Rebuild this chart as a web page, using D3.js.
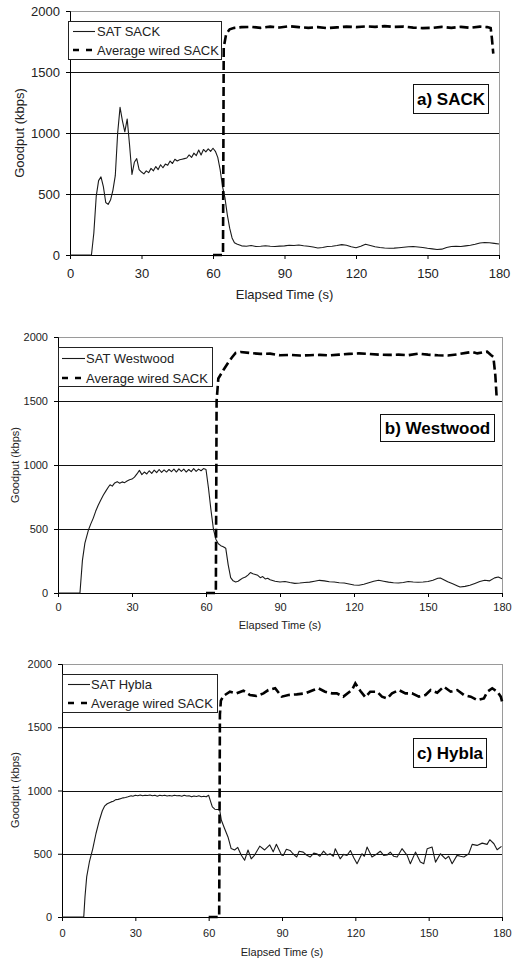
<!DOCTYPE html>
<html><head><meta charset="utf-8">
<script src="https://cdn.jsdelivr.net/npm/d3@7"></script>
<style>body{margin:0;background:#fff} text{font-family:"Liberation Sans",Arial,sans-serif}</style>
</head><body><svg id="c" width="517" height="963"></svg>
<script>
const xTickValues=[0,30,60,90,120,150,180];
const yTickValues=[0,500,1000,1500,2000];
const gridValues=[500,1000,1500];
const xTitle="Elapsed Time (s)";
const yTitle="Goodput (kbps)";
const wiredLabel="Average wired SACK";
const satLabels=["SAT SACK","SAT Westwood","SAT Hybla"];
const panelTitles=["a) SACK","b) Westwood","c) Hybla"];

const satSack=[[0,0],[9,0],[10,180],[11,480],[12,610],[13,640],[14,560],[15,430],[16,415],[17,450],[18,530],[19,650],[20,1000],[21,1210],[22,1100],[23,1010],[24,1115],[25,900],[26,660],[27,760],[28,790],[29,700],[30,680],[31,665],[32,690],[33,675],[34,710],[35,690],[36,725],[37,700],[38,740],[39,715],[40,745],[41,735],[42,770],[43,750],[44,785],[45,770],[46,780],[47,785],[48,790],[49,795],[50,820],[51,800],[52,835],[53,815],[54,860],[55,820],[56,865],[57,845],[58,870],[59,850],[60,875],[61,850],[62,800],[63,700],[64,560],[65,470],[66,330],[67,220],[68,140],[69,100],[70,90],[72,75],[74,72],[76,78],[78,70],[80,72],[82,76],[84,72],[86,70],[88,73],[90,75],[92,80],[94,78],[96,82],[98,76],[100,72],[102,65],[104,58],[106,62],[108,70],[110,72],[112,78],[114,85],[116,80],[118,68],[120,60],[122,72],[124,88],[126,78],[128,68],[130,62],[132,58],[134,55],[136,56],[138,60],[140,64],[142,68],[144,70],[146,66],[148,62],[150,55],[152,50],[154,45],[156,48],[158,62],[160,70],[162,72],[164,70],[166,75],[168,80],[170,88],[172,98],[174,102],[176,100],[178,95],[180,90]];
const wiredSack=[[60,0],[64.2,0],[64.5,1700],[65.5,1810],[67,1850],[69,1862],[72,1868],[76,1870],[80,1862],[84,1872],[88,1865],[92,1875],[96,1868],[100,1862],[104,1868],[108,1860],[112,1866],[116,1872],[120,1868],[124,1874],[128,1870],[132,1876],[136,1870],[140,1872],[144,1864],[148,1860],[152,1862],[156,1870],[160,1862],[164,1870],[168,1862],[172,1872],[175,1868],[176.5,1860],[177,1780],[177.6,1650]];

const satWestwood=[[0,0],[8.9,0],[9.9,255],[10.9,390],[12.3,490],[13.3,540],[14.3,585],[15.3,640],[16.3,685],[17.3,725],[18.4,765],[19.5,800],[20.5,830],[21.1,845],[22,835],[23,860],[24,870],[25,858],[26,868],[27,862],[28,875],[29,885],[30,890],[31,905],[32,930],[33,958],[34,925],[35,945],[36,930],[37,955],[38,935],[39,960],[40,940],[41,965],[42,942],[43,962],[44,945],[45,965],[46,948],[47,968],[48,945],[49,970],[50,950],[51,968],[52,945],[53,965],[54,948],[55,972],[56,950],[57,968],[58,955],[59,972],[60,965],[61,820],[62,650],[63,500],[64,420],[65,385],[66,370],[67,362],[68,350],[69,220],[70,120],[71,95],[72,86],[73,92],[74,105],[75,118],[76,125],[77,140],[78,160],[79,150],[80,145],[81,138],[82,120],[83,128],[84,110],[85,115],[86,104],[88,92],[90,86],[92,90],[94,82],[96,75],[98,78],[100,82],[102,85],[104,92],[106,99],[108,95],[110,88],[112,86],[114,80],[116,78],[118,70],[120,62],[122,60],[124,68],[126,80],[128,92],[130,99],[132,92],[134,85],[136,80],[138,78],[140,82],[142,90],[144,86],[146,84],[148,86],[150,90],[152,100],[154,115],[155,117],[156,108],[158,88],[160,72],[162,55],[163,47],[165,52],[167,60],[169,75],[171,90],[173,100],[175,95],[177,118],[178.5,125],[180,112]];
const wiredWestwood=[[60,0],[64,0],[64.3,1500],[65,1676],[67,1740],[69,1800],[70.5,1840],[72,1875],[74,1883],[78,1875],[82,1868],[86,1870],[90,1857],[94,1860],[98,1855],[102,1858],[106,1860],[110,1856],[114,1862],[118,1868],[122,1872],[126,1868],[130,1862],[134,1860],[138,1862],[142,1858],[146,1870],[150,1862],[154,1857],[158,1855],[162,1865],[166,1878],[168,1883],[170,1872],[172,1880],[174,1885],[175.5,1860],[176.5,1845],[177.3,1700],[177.8,1540]];

const satHybla=[[0,0],[8.9,0],[9.4,158],[10.1,317],[11.2,435],[12.6,541],[13.9,660],[15.3,765],[16.5,840],[17.4,876],[18.5,895],[20.1,910],[21,915],[22,928],[23,930],[24.2,937],[25,942],[26,945],[27,950],[28.3,958],[29,955],[30,962],[31,958],[32,964],[33,958],[34,962],[35,960],[36,965],[37,958],[38,962],[39,955],[40,963],[41,958],[42,962],[43,956],[44,961],[45,957],[46,963],[47,958],[48,960],[49,955],[50,962],[51,956],[52,958],[53,950],[54,957],[55,952],[56,958],[57,951],[58,955],[59,950],[60,962],[61,900],[61.5,870],[62.5,852],[64.5,848],[65.2,765],[66.5,700],[67.9,633],[69.2,541],[70.6,530],[71.9,550],[73.3,490],[74.7,449],[76.1,530],[77.4,460],[78.8,490],[80.9,560],[82.9,530],[85,570],[86.4,515],[87.7,575],[89.8,490],[90.5,487],[91.8,535],[93.3,526],[94.5,500],[96,474],[97,520],[98.7,513],[100,490],[101.5,474],[103,505],[104.2,500],[105.5,480],[107,521],[108.5,490],[109.7,500],[111,480],[111.8,540],[113.8,460],[115.2,495],[116.6,487],[118,526],[119.3,470],[120.7,421],[122.7,500],[123.7,480],[124.8,553],[126.8,474],[128.9,500],[130.2,520],[131.6,487],[133,490],[134.3,513],[135.7,480],[137.1,474],[139.1,540],[141.2,487],[142.5,421],[144.6,513],[146.6,434],[148,421],[149.4,540],[151.4,553],[152.8,434],[154.8,500],[156.9,460],[158.2,480],[159.6,421],[161.6,487],[163,480],[164.4,474],[166.4,500],[167.8,574],[169.8,566],[171.9,584],[173.9,574],[175,611],[176.7,579],[178,532],[179.8,558]];
const wiredHybla=[[60,0],[64.3,0],[64.6,1600],[65,1710],[66,1747],[68.7,1781],[71.4,1768],[74.2,1789],[76.9,1755],[79.6,1747],[82.4,1768],[84.4,1794],[87.2,1808],[89.9,1742],[92.6,1755],[96,1760],[99.5,1768],[102.9,1794],[104.9,1808],[107.6,1781],[110.4,1768],[112.4,1768],[115.1,1742],[118.6,1794],[120,1847],[122,1789],[124.1,1737],[126.1,1781],[128.9,1781],[130.9,1742],[133,1728],[135,1768],[137.8,1794],[140.5,1768],[143.2,1768],[146,1742],[148.7,1755],[150.8,1794],[153.5,1773],[156.2,1821],[159,1781],[161.7,1794],[164.4,1755],[167.2,1742],[169.9,1715],[172.6,1728],[174,1781],[176,1808],[178.1,1781],[179.5,1742],[180,1705]];

const satSeries=[satSack,satWestwood,satHybla];
const wiredSeries=[wiredSack,wiredWestwood,wiredHybla];

// layout (positions only)
const layout=[
 {l:70,r:499,t:11,b:255,fs:13,xlab:13.7,xt:298.5,yx:19,yc:133,
  lg:{x:68,y:21,w:153,h:38,r1:31,r2:50,s1:73,s2:95,tx:97},
  bx:{x:413,y:84,w:75,h:29}},
 {l:58,r:502,t:337,b:593,fs:11,xlab:10,xt:629,yx:15,yc:465,
  lg:{x:58,y:347,w:154,h:39,r1:358,r2:378,s1:62,s2:85,tx:86},
  bx:{x:380,y:414,w:114,h:27}},
 {l:62,r:502,t:664,b:917,fs:11,xlab:12.3,xt:955.5,yx:15,yc:790,
  lg:{x:62,y:674,w:155,h:38,r1:684,r2:703,s1:68,s2:90,tx:91},
  bx:{x:413,y:738,w:73,h:29}}
];

const svg=d3.select("#c");
layout.forEach((p,i)=>{
  const x=d3.scaleLinear().domain([0,180]).range([p.l,p.r]);
  const y=d3.scaleLinear().domain([0,2000]).range([p.b,p.t]);
  const g=svg.append("g");
  // plot border (gray top/right)
  g.append("rect").attr("x",p.l+0.5).attr("y",p.t+0.5).attr("width",p.r-p.l).attr("height",p.b-p.t)
    .attr("fill","none").attr("stroke","#9a9a9a").attr("stroke-width",1);
  // gridlines
  g.append("g").selectAll("line").data(gridValues).join("line")
    .attr("x1",p.l).attr("x2",p.r)
    .attr("y1",d=>Math.round(y(d))+0.5).attr("y2",d=>Math.round(y(d))+0.5)
    .attr("stroke","#111").attr("stroke-width",1);
  // axes
  const ya=g.append("g").attr("transform",`translate(${p.l},0)`)
    .call(d3.axisLeft(y).tickValues(yTickValues).tickSize(4).tickPadding(6).tickFormat(d3.format("d")));
  ya.select(".domain").attr("stroke","#000");
  ya.selectAll(".tick line").attr("stroke","#000");
  ya.selectAll("text").attr("font-size",p.fs).attr("fill","#222").attr("font-family","Liberation Sans, Arial, sans-serif");
  const xa=g.append("g").attr("transform",`translate(0,${p.b})`)
    .call(d3.axisBottom(x).tickValues(xTickValues).tickSize(4).tickFormat(d3.format("d")));
  xa.select(".domain").attr("stroke","#000");
  xa.selectAll(".tick line").attr("stroke","#000");
  xa.selectAll("text").attr("font-size",p.fs).attr("fill","#222").attr("y",p.xlab)
    .attr("font-family","Liberation Sans, Arial, sans-serif");
  // titles
  g.append("text").attr("x",(p.l+p.r)/2).attr("y",p.xt).attr("text-anchor","middle")
    .attr("font-size",p.fs).attr("fill","#222").text(xTitle);
  g.append("text").attr("transform",`translate(${p.yx},${p.yc}) rotate(-90)`).attr("dy","0.35em")
    .attr("text-anchor","middle").attr("font-size",p.fs).attr("fill","#222").text(yTitle);
  // lines
  const line=d3.line().x(d=>x(d[0])).y(d=>y(d[1]));
  g.append("path").datum(satSeries[i]).attr("d",line).attr("fill","none")
    .attr("stroke","#1a1a1a").attr("stroke-width",1.1).attr("stroke-linejoin","round");
  g.append("path").datum(wiredSeries[i]).attr("d",line).attr("fill","none")
    .attr("stroke","#000").attr("stroke-width",2.6).attr("stroke-dasharray","9,4");
  // legend
  const L=p.lg;
  g.append("rect").attr("x",L.x+0.5).attr("y",L.y+0.5).attr("width",L.w).attr("height",L.h)
    .attr("fill","#fff").attr("stroke","#222");
  g.append("line").attr("x1",L.s1).attr("x2",L.s2).attr("y1",L.r1+0.5).attr("y2",L.r1+0.5)
    .attr("stroke","#1a1a1a").attr("stroke-width",1.1);
  g.append("line").attr("x1",L.s1).attr("x2",L.s2).attr("y1",L.r2).attr("y2",L.r2)
    .attr("stroke","#000").attr("stroke-width",2.4).attr("stroke-dasharray","6,7");
  g.append("text").attr("x",L.tx).attr("y",L.r1).attr("dy","0.35em").attr("font-size",13).attr("fill","#222").text(satLabels[i]);
  g.append("text").attr("x",L.tx).attr("y",L.r2).attr("dy","0.35em").attr("font-size",13).attr("fill","#222").text(wiredLabel);
  // panel label
  const B=p.bx;
  g.append("rect").attr("x",B.x+0.5).attr("y",B.y+0.5).attr("width",B.w).attr("height",B.h)
    .attr("fill","#fff").attr("stroke","#111");
  g.append("text").attr("x",B.x+B.w/2+0.5).attr("y",B.y+B.h/2).attr("dy","0.36em").attr("text-anchor","middle")
    .attr("font-size",17).attr("font-weight","bold").attr("fill","#000").text(panelTitles[i]);
});
</script></body></html>
